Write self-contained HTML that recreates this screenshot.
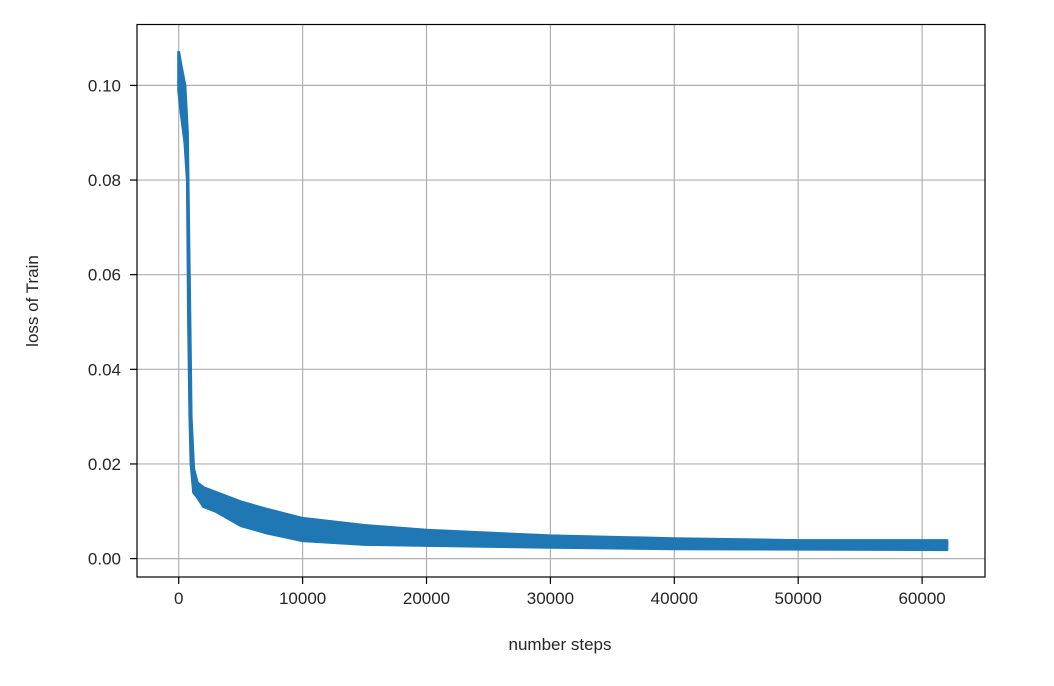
<!DOCTYPE html>
<html><head><meta charset="utf-8"><style>
html,body{margin:0;padding:0;background:#fff;}
svg text{font-family:"Liberation Sans","DejaVu Sans",sans-serif;fill:#262626;}
</style></head><body>
<svg id="chart" width="1054" height="681" viewBox="0 0 1054 681" xmlns="http://www.w3.org/2000/svg">
<g id="grid"></g>
<g id="series"></g>
<rect x="137" y="24.5" width="848" height="552.5" fill="none" stroke="#000" stroke-width="1.2"/>
<g id="xticks"></g>
<g id="yticks"></g>
<text x="560" y="650" font-size="17" text-anchor="middle">number steps</text>
<text transform="translate(38,301) rotate(-90)" font-size="17" text-anchor="middle">loss of Train</text>
</svg>
<script>
const xTicks = [0,10000,20000,30000,40000,50000,60000];
const yTicks = [0,0.02,0.04,0.06,0.08,0.10];
const yTickLabels = ["0.00","0.02","0.04","0.06","0.08","0.10"];
const steps = [0,200,500,700,800,900,1000,1200,1500,2000,3000,5000,7000,10000,15000,20000,30000,40000,50000,62000];
const lossHigh = [0.107,0.104,0.100,0.090,0.070,0.050,0.030,0.019,0.016,0.015,0.014,0.012,0.0105,0.0085,0.007,0.006,0.0048,0.0042,0.0038,0.0038];
const lossLow = [0.099,0.094,0.088,0.080,0.050,0.030,0.020,0.014,0.013,0.011,0.010,0.007,0.0055,0.0038,0.003,0.0028,0.0024,0.0021,0.0020,0.0019];

const NS='http://www.w3.org/2000/svg';
const X = v => 178.7 + v*0.01239;
const Y = v => 558.6 - v*4732;
function mk(tag, attrs, parent){const e=document.createElementNS(NS,tag);for(const k in attrs)e.setAttribute(k,attrs[k]);parent.appendChild(e);return e;}
const grid=document.getElementById('grid'), xt=document.getElementById('xticks'), yt=document.getElementById('yticks'), ser=document.getElementById('series');
xTicks.forEach(t=>{
  const g=mk('line',{x1:X(t),x2:X(t),y1:24.5,y2:577,stroke:'#b0b0b0','stroke-width':1.2},grid);
  
  
  const tk=mk('line',{x1:X(t),x2:X(t),y1:577,y2:584,stroke:'#000','stroke-width':1.2},xt);
  
  
  const tx=mk('text',{x:X(t),y:604,'font-size':17,'text-anchor':'middle'},xt);
  tx.textContent=String(t);
  
  
});
yTicks.forEach((t,i)=>{
  const g=mk('line',{x1:137,x2:985,y1:Y(t),y2:Y(t),stroke:'#b0b0b0','stroke-width':1.2},grid);
  
  
  const tk=mk('line',{x1:130,x2:137,y1:Y(t),y2:Y(t),stroke:'#000','stroke-width':1.2},yt);
  
  
  const tx=mk('text',{x:121,y:Y(t)+6,'font-size':17,'text-anchor':'end'},yt);
  tx.textContent=yTickLabels[i];
  
  
});
let d='M'+steps.map((s,i)=>X(s).toFixed(1)+','+Y(lossHigh[i]).toFixed(1)).join(' L');
for(let i=steps.length-1;i>=0;i--) d+=' L'+X(steps[i]).toFixed(1)+','+Y(lossLow[i]).toFixed(1);
d+=' Z';
const band=mk('path',{d:d,fill:'#1f77b4',stroke:'#1f77b4','stroke-width':3,'stroke-linejoin':'round'},ser);


</script>
</body></html>
